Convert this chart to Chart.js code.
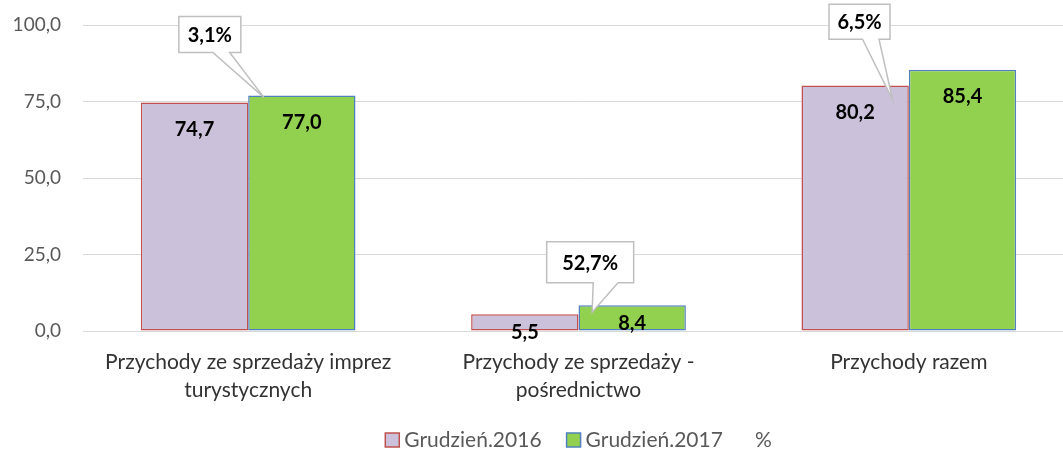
<!DOCTYPE html>
<html>
<head>
<meta charset="utf-8">
<script src="https://cdn.jsdelivr.net/npm/chart.js@4/dist/chart.umd.min.js"></script>
<style>
  html, body { margin: 0; padding: 0; background: #fff; overflow: hidden; }
  #wrap { width: 1153px; height: 457px; position: relative; }
</style>
</head>
<body>
<div id="wrap"><canvas id="chart"></canvas></div>
<script>
// Data
const categories = [
  ['Przychody ze sprzedaży imprez', 'turystycznych'],
  ['Przychody ze sprzedaży -', 'pośrednictwo'],
  'Przychody razem'
];
const seriesNames = ['Grudzień.2016', 'Grudzień.2017', '%'];
const values2016 = [74.7, 5.5, 80.2];
const values2017 = [77.0, 8.4, 85.4];
const changePct = [3.1, 52.7, 6.5];
const yTicks = [0, 25, 50, 75, 100];

const FONT = "Lato, 'Open Sans', sans-serif";
const fmt = v => v.toFixed(1).replace('.', ',');

// Callout placement relative to the 2017 bar (box centre, box size, pointer tip)
const calloutStyle = [
  { bx: -92, by: -61, w: 62, h: 36, tx: -38, ty: 2 },
  { bx: -42, by: -43, w: 87, h: 41, tx: -40, ty: 7 },
  { bx: -103, by: -48, w: 61, h: 35, tx: -70, ty: 30 }
];

// Value labels inside the bars
const valueLabels = {
  id: 'valueLabels',
  afterDatasetsDraw(chart) {
    const ctx = chart.ctx;
    ctx.save();
    ctx.font = `bold 20px ${FONT}`;
    ctx.fillStyle = '#000';
    ctx.textAlign = 'center';
    ctx.textBaseline = 'middle';
    [0, 1].forEach(di => {
      const meta = chart.getDatasetMeta(di);
      meta.data.forEach((bar, i) => {
        const h = bar.base - bar.y;
        const drop = h > 40 ? 27 : 18;
        ctx.fillText(fmt(chart.data.datasets[di].data[i]), bar.x, bar.y + drop);
      });
    });
    ctx.restore();
  }
};

// Percentage callouts
const callouts = {
  id: 'callouts',
  afterDatasetsDraw(chart) {
    const ctx = chart.ctx;
    const meta = chart.getDatasetMeta(1);
    const pct = chart.data.datasets[2].data;
    ctx.save();
    ctx.font = `bold 20px ${FONT}`;
    meta.data.forEach((bar, i) => {
      const s = calloutStyle[i];
      const text = fmt(pct[i]) + '%';
      const w = s.w, hgt = s.h;
      const cx = bar.x + s.bx, cy = bar.y + s.by;
      const l = cx - w / 2, r = cx + w / 2, t = cy - hgt / 2, b = cy + hgt / 2;
      const b1 = cx + 3, b2 = Math.min(cx + w * 0.32, r);
      ctx.beginPath();
      ctx.moveTo(l, t);
      ctx.lineTo(r, t);
      ctx.lineTo(r, b);
      ctx.lineTo(b2, b);
      ctx.lineTo(bar.x + s.tx, bar.y + s.ty);
      ctx.lineTo(b1, b);
      ctx.lineTo(l, b);
      ctx.closePath();
      ctx.fillStyle = '#fff';
      ctx.fill();
      ctx.lineWidth = 1.5;
      ctx.strokeStyle = '#bfbfbf';
      ctx.stroke();
      ctx.fillStyle = '#000';
      ctx.textAlign = 'center';
      ctx.textBaseline = 'middle';
      ctx.fillText(text, cx, cy + 1);
    });
    ctx.restore();
  }
};

// Legend drawn under the plot, centred on the chart area
const bottomLegend = {
  id: 'bottomLegend',
  afterDraw(chart) {
    const ctx = chart.ctx;
    const area = chart.chartArea;
    const y = 440;
    const box = 14, gap = 5, spacing = 25;
    ctx.save();
    ctx.font = `21px ${FONT}`;
    ctx.textBaseline = 'middle';
    const items = chart.data.datasets.map((ds, i) => ({
      ds,
      hasBox: i < 2,
      tw: ctx.measureText(ds.label).width
    }));
    let total = 0;
    items.forEach((it, i) => {
      total += (it.hasBox ? box + gap : 0) + it.tw;
      if (i < items.length - 1) total += items[i + 1].hasBox ? spacing : 32;
    });
    let x = (area.left + area.right) / 2 - total / 2;
    items.forEach((it, i) => {
      if (it.hasBox) {
        ctx.fillStyle = it.ds.backgroundColor;
        ctx.fillRect(x, y - box / 2, box, box);
        ctx.lineWidth = 1.5;
        ctx.strokeStyle = it.ds.borderColor;
        ctx.strokeRect(x, y - box / 2, box, box);
        x += box + gap;
      }
      ctx.fillStyle = '#595959';
      ctx.fillText(it.ds.label, x, y);
      x += it.tw;
      if (i < items.length - 1) x += items[i + 1].hasBox ? spacing : 32;
    });
    ctx.restore();
  }
};

const ctx = document.getElementById('chart').getContext('2d');
new Chart(ctx, {
  data: {
    labels: categories,
    datasets: [
      {
        type: 'bar',
        label: seriesNames[0],
        data: values2016,
        backgroundColor: '#ccc1da',
        borderColor: '#c0504d',
        borderWidth: 1.5,
        borderSkipped: false
      },
      {
        type: 'bar',
        label: seriesNames[1],
        data: values2017,
        backgroundColor: '#92d050',
        borderColor: '#4f81bd',
        borderWidth: 1.5,
        borderSkipped: false
      },
      {
        type: 'line',
        label: seriesNames[2],
        data: changePct,
        showLine: false,
        pointRadius: 0,
        borderColor: 'rgba(0,0,0,0)',
        backgroundColor: 'rgba(0,0,0,0)'
      }
    ]
  },
  options: {
    responsive: true,
    maintainAspectRatio: false,
    animation: false,
    devicePixelRatio: 1,
    layout: { padding: { top: 25, left: 0, right: 79, bottom: 36 } },
    datasets: {
      bar: { categoryPercentage: 0.65, barPercentage: 1 }
    },
    scales: {
      x: {
        grid: { display: false, drawTicks: false },
        border: { display: false },
        ticks: {
          color: '#333',
          padding: 18,
          maxRotation: 0,
          autoSkip: false,
          font: { family: FONT, size: 21, lineHeight: 1.3 }
        },
        afterFit: scale => { scale.height = 90; }
      },
      y: {
        min: yTicks[0],
        max: yTicks[yTicks.length - 1],
        afterBuildTicks: scale => { scale.ticks = yTicks.map(v => ({ value: v })); },
        grid: { color: '#d9d9d9', lineWidth: 1, drawTicks: false },
        border: { display: false },
        ticks: {
          color: '#595959',
          padding: 22,
          font: { family: FONT, size: 19 },
          callback: v => fmt(v)
        },
        afterFit: scale => {
          scale.width = 83;
          scale.paddingTop = 0;
          scale.paddingBottom = 0;
        }
      }
    },
    plugins: {
      tooltip: { enabled: false },
      legend: { display: false }
    }
  },
  plugins: [valueLabels, callouts, bottomLegend]
});
</script>
</body>
</html>
